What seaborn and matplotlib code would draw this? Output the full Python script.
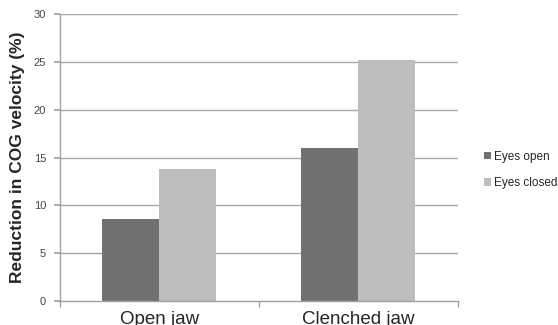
import matplotlib
matplotlib.use("Agg")
import matplotlib.pyplot as plt
import seaborn as sns
import pandas as pd

categories = ["Open jaw", "Clenched jaw"]
series = ["Eyes open", "Eyes closed"]
eyes_open = [8.6, 16.0]
eyes_closed = [13.8, 25.2]
y_ticks = [0, 5, 10, 15, 20, 25, 30]

df = pd.DataFrame({
    "cat": categories * 2,
    "series": [series[0]] * 2 + [series[1]] * 2,
    "value": eyes_open + eyes_closed,
})

sns.set_theme(style="white")
plt.rcParams['font.family'] = ['Liberation Sans', 'DejaVu Sans']

fig = plt.figure(figsize=(5.58, 3.25), dpi=100)
ax = fig.add_axes([0.1075, 0.074, 0.713, 0.882])

for y in y_ticks[1:]:
    ax.axhline(y, color="#a8a8a8", lw=1.0, zorder=0)

sns.barplot(data=df, x="cat", y="value", hue="series", order=categories,
            hue_order=series, palette=["#717171", "#bdbdbd"], width=0.573,
            saturation=1, linewidth=0, ax=ax, zorder=2)

ax.set_ylim(0, 30)
ax.set_xlim(-0.5, 1.5)
ax.set_yticks(y_ticks)
ax.set_yticklabels([str(t) for t in y_ticks], fontsize=8, color="#444444")
ax.set_xticks([0, 1])
ax.set_xticklabels(categories, fontsize=13.5)
ax.set_xlabel("")
ax.set_ylabel("Reduction in COG velocity (%)", fontsize=12.5, fontweight="bold", labelpad=6)

for s in ["top", "right"]:
    ax.spines[s].set_visible(False)
for s in ["left", "bottom"]:
    ax.spines[s].set_color("#a0a0a0")
    ax.spines[s].set_linewidth(1.0)

ax.tick_params(axis="y", which="both", left=True, length=4, color="#a0a0a0", pad=6)
ax.tick_params(axis="x", which="major", bottom=False, pad=1)
ax.set_xticks([-0.5, 0.5, 1.5], minor=True)
ax.tick_params(axis="x", which="minor", bottom=True, length=4, color="#a0a0a0")

leg = ax.legend(loc="upper left", bbox_to_anchor=(1.04, 0.56), frameon=False,
                fontsize=8.5, handlelength=0.55, handleheight=0.55, handletextpad=0.25,
                labelspacing=1.2)

fig.savefig("out.png", dpi=100)
